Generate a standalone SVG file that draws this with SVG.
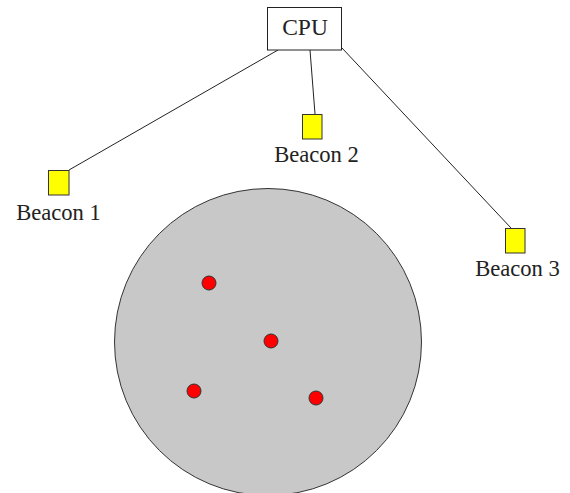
<svg xmlns="http://www.w3.org/2000/svg" width="570" height="493" viewBox="0 0 570 493">
  <style>
    .lbl { font-family: "Liberation Serif", "DejaVu Serif", serif; font-size: 22.6px; fill: #222; text-anchor: middle; }
    .wire { stroke: #222; stroke-width: 1; fill: none; }
    .beacon { fill: #ffff00; stroke: #333; stroke-width: 1; }
    .tag { fill: #ff0000; stroke: #333; stroke-width: 1; }
  </style>
  <rect width="570" height="493" fill="#ffffff"/>

  <!-- coverage area -->
  <g id="area">
    <circle cx="268" cy="342" r="153.5" fill="#c8c8c8" stroke="#333" stroke-width="1"/>
  </g>

  <!-- tags inside the area -->
  <g id="tags">
    <circle class="tag" cx="209" cy="283" r="7"/>
    <circle class="tag" cx="271" cy="341" r="7"/>
    <circle class="tag" cx="194" cy="391" r="7"/>
    <circle class="tag" cx="316" cy="398" r="7"/>
  </g>

  <!-- links from CPU to beacons -->
  <g id="connectors">
    <line class="wire" x1="278" y1="50" x2="69" y2="170"/>
    <line class="wire" x1="310" y1="50" x2="315" y2="114"/>
    <line class="wire" x1="342" y1="48" x2="511" y2="228"/>
  </g>

  <g id="cpu">
    <rect x="267.5" y="7.5" width="74" height="42.5" fill="#ffffff" stroke="#222" stroke-width="1"/>
    <text class="lbl" x="305" y="35" style="font-size:23.5px">CPU</text>
  </g>

  <g id="beacon1">
    <rect class="beacon" x="48.5" y="170.5" width="20.5" height="24.5"/>
    <text class="lbl" x="58.5" y="220">Beacon 1</text>
  </g>

  <g id="beacon2">
    <rect class="beacon" x="302.5" y="114.5" width="19.5" height="24.5"/>
    <text class="lbl" x="316.5" y="162">Beacon 2</text>
  </g>

  <g id="beacon3">
    <rect class="beacon" x="505.5" y="228.5" width="19.5" height="24.5"/>
    <text class="lbl" x="517.5" y="276">Beacon 3</text>
  </g>
</svg>
